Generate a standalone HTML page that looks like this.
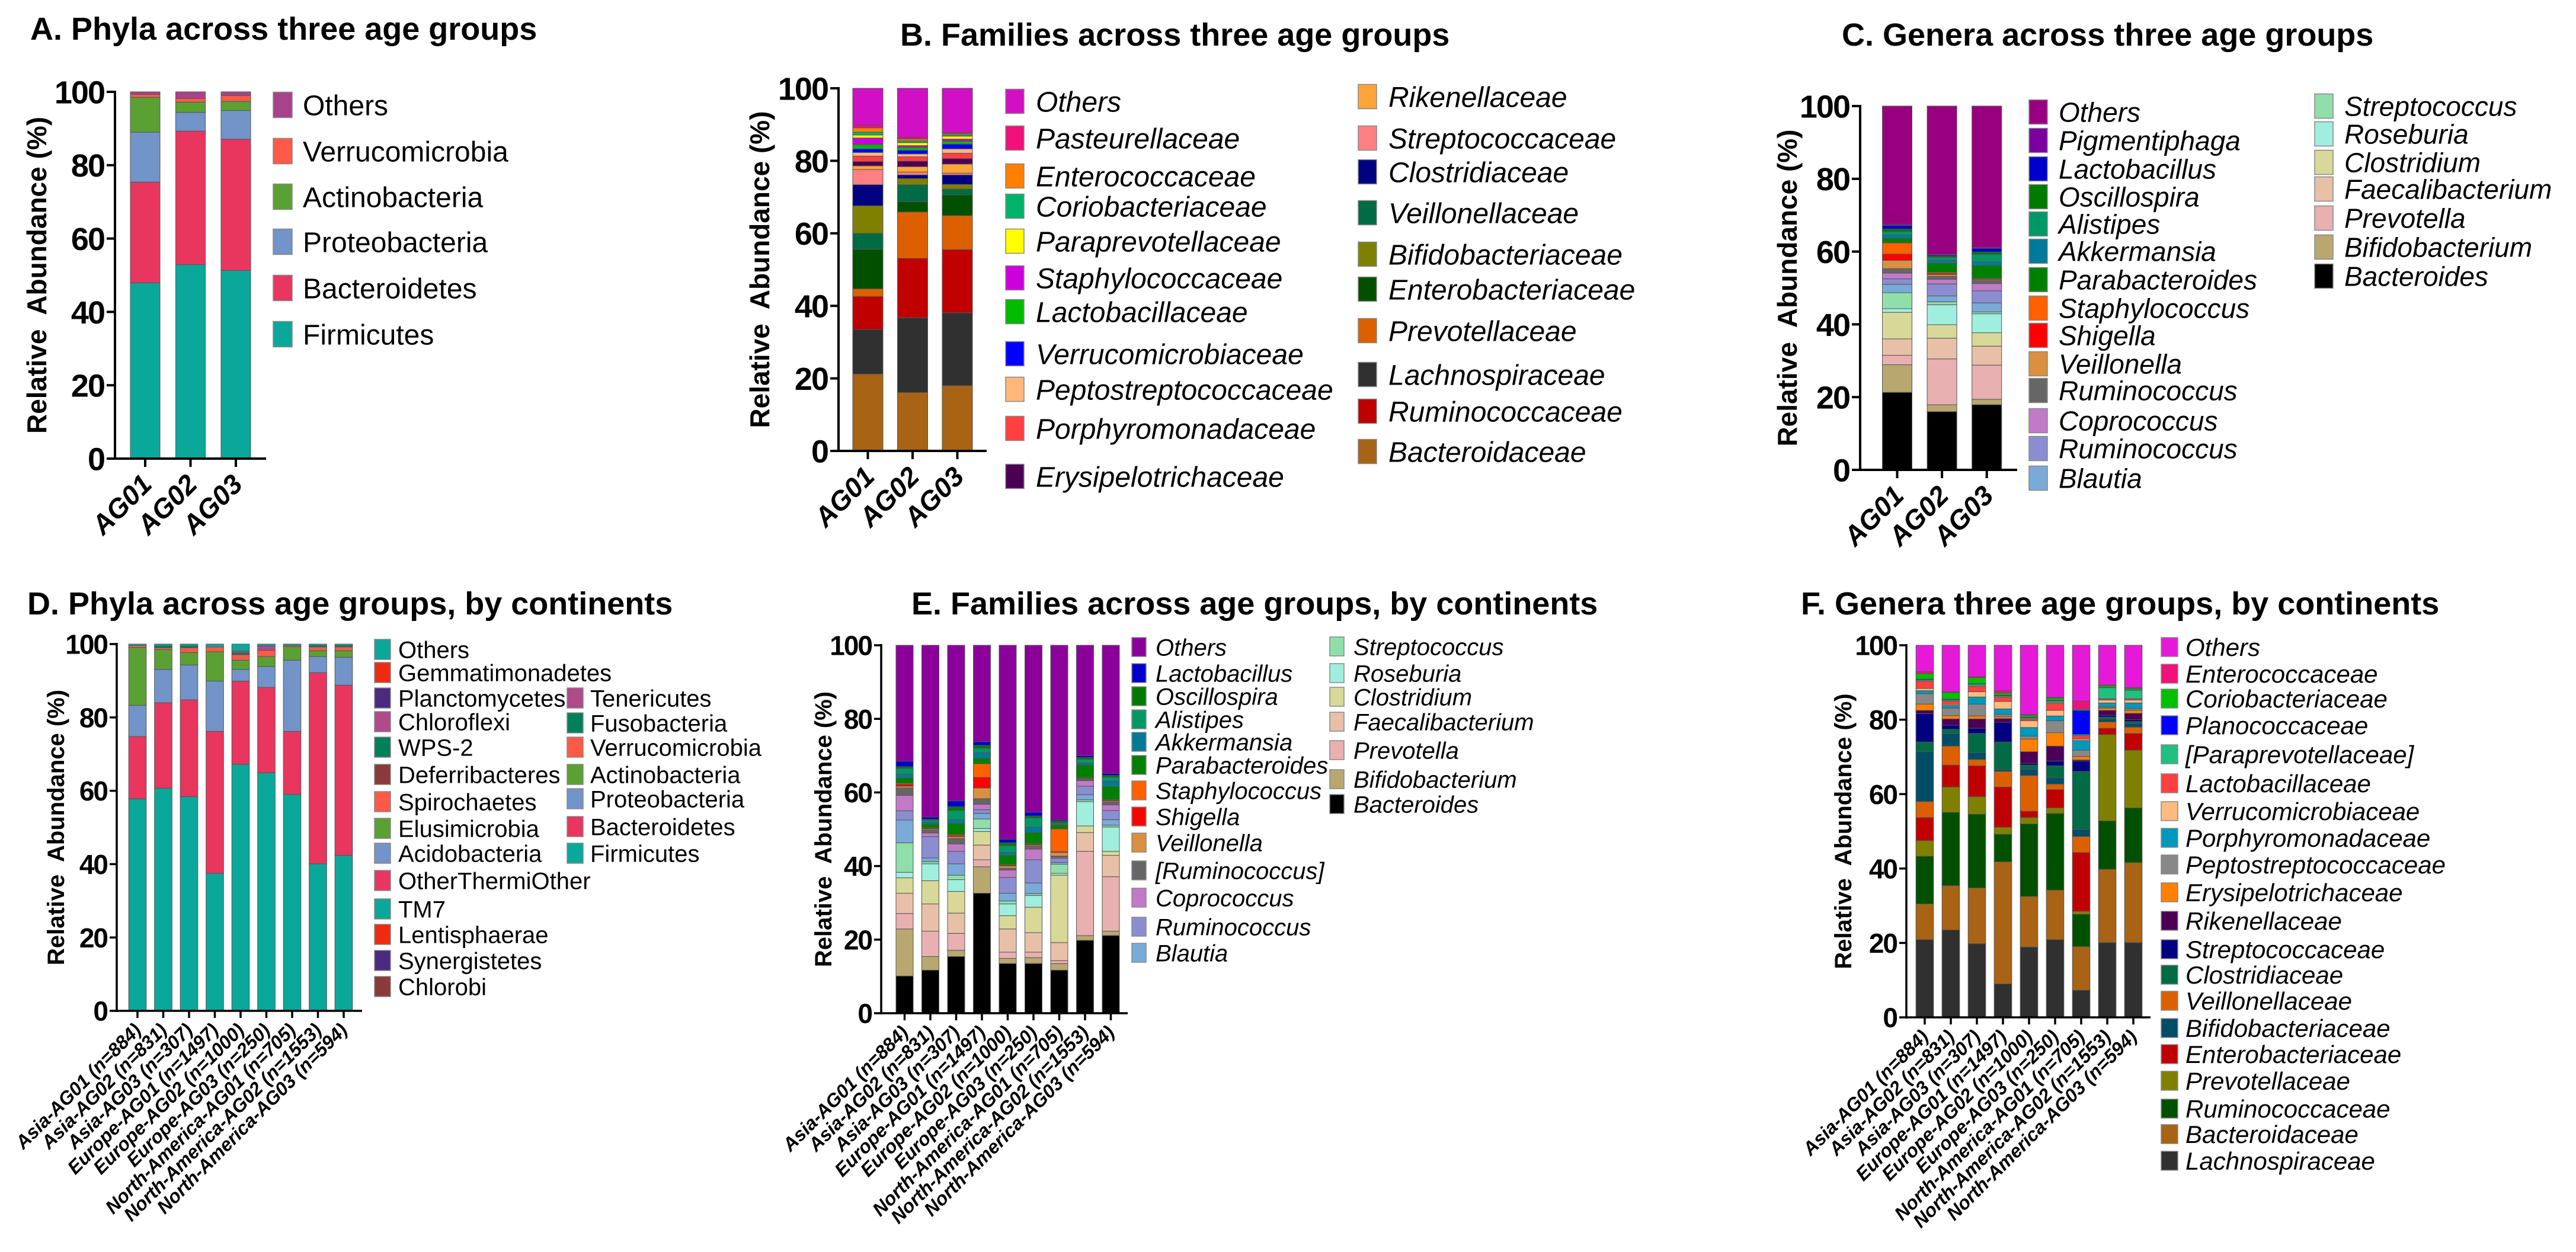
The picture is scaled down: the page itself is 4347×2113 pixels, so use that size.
<!DOCTYPE html>
<html><head><meta charset="utf-8"><style>
html,body{margin:0;padding:0;background:#fff;}
svg{display:block;font-family:"Liberation Sans",Arial,sans-serif;}
text{white-space:pre;}
</style></head><body>
<svg id="fig" width="4347" height="2113" viewBox="0 0 4347 2113" xmlns="http://www.w3.org/2000/svg">
<rect x="0" y="0" width="4347" height="2113" fill="#fff"/>
</svg>
<script>
// ---------- DATA ----------
const catsAge = ['AG01','AG02','AG03'];
const catsCont = ['Asia-AG01 (n=884)','Asia-AG02 (n=831)','Asia-AG03 (n=307)','Europe-AG01 (n=1497)','Europe-AG02 (n=1000)','Europe-AG03 (n=250)','North-America-AG01 (n=705)','North-America-AG02 (n=1553)','North-America-AG03 (n=594)'];
const yTicks = [0,20,40,60,80,100];

// Panel A
const seriesA = ['Firmicutes','Bacteroidetes','Proteobacteria','Actinobacteria','Verrucomicrobia','Others'];
const valsA = [[47.9,27.5,13.6,9.5,0.8,0.7],[52.9,36.4,5.1,2.8,1.0,1.8],[51.3,35.8,7.8,2.5,1.6,1.0]];
const legendA = ['Others','Verrucomicrobia','Actinobacteria','Proteobacteria','Bacteroidetes','Firmicutes'];

// Panel B
const seriesB = ['Bacteroidaceae','Lachnospiraceae','Ruminococcaceae','Prevotellaceae','Enterobacteriaceae','Veillonellaceae','Bifidobacteriaceae','Clostridiaceae','Streptococcaceae','Rikenellaceae','Erysipelotrichaceae','Porphyromonadaceae','Peptostreptococcaceae','Verrucomicrobiaceae','Lactobacillaceae','Staphylococcaceae','Paraprevotellaceae','Coriobacteriaceae','Enterococcaceae','Pasteurellaceae','Others'];
const valsB = [
 [21.2,12.3,9.1,2.1,10.9,4.4,7.6,5.8,4.2,1.0,1.2,1.5,1.0,1.0,1.2,1.8,0.8,0.8,1.2,0.7,10.2],
 [16.1,20.6,16.4,12.8,2.8,4.7,1.7,1.0,0.8,1.5,1.5,1.2,0.8,1.0,0.8,0.5,0.8,0.5,0.5,0.5,13.5],
 [18.0,20.1,17.4,9.4,5.7,1.6,1.3,2.6,0.5,2.5,1.5,1.5,1.2,1.3,0.8,0.6,0.8,0.4,0.3,0.3,12.2]];
const legendB1 = ['Others','Pasteurellaceae','Enterococcaceae','Coriobacteriaceae','Paraprevotellaceae','Staphylococcaceae','Lactobacillaceae','Verrucomicrobiaceae','Peptostreptococcaceae','Porphyromonadaceae','Erysipelotrichaceae'];
const legendB2 = ['Rikenellaceae','Streptococcaceae','Clostridiaceae','Veillonellaceae','Bifidobacteriaceae','Enterobacteriaceae','Prevotellaceae','Lachnospiraceae','Ruminococcaceae','Bacteroidaceae'];

// Panel C
const seriesC = ['Bacteroides','Bifidobacterium','Prevotella','Faecalibacterium','Clostridium','Roseburia','Streptococcus','Blautia','Ruminococcus','Coprococcus','[Ruminococcus]','Veillonella','Shigella','Staphylococcus','Parabacteroides','Akkermansia','Alistipes','Oscillospira','Lactobacillus','Pigmentiphaga','Others'];
const valsC = [
 [21.3,7.6,2.6,4.5,7.3,1.0,4.4,2.3,1.5,1.6,1.2,2.3,1.7,3.1,1.2,1.0,0.9,0.7,1.0,0.3,32.5],
 [16.0,1.9,12.6,5.7,3.7,5.5,0.8,1.6,3.3,1.3,0.8,0.5,0.3,0.3,2.5,0.8,0.8,0.3,0.3,0.2,40.8],
 [17.9,1.5,9.4,5.2,3.7,5.2,0.5,2.5,3.3,2.0,0.8,0.3,0.2,0.2,3.5,1.0,2.0,0.7,1.0,0.2,38.9]];
const legendC1 = ['Others','Pigmentiphaga','Lactobacillus','Oscillospira','Alistipes','Akkermansia','Parabacteroides','Staphylococcus','Shigella','Veillonella','[Ruminococcus]','Coprococcus','Ruminococcus','Blautia'];
const legendC2 = ['Streptococcus','Roseburia','Clostridium','Faecalibacterium','Prevotella','Bifidobacterium','Bacteroides'];

// Panel D
const seriesD = ['Firmicutes','Bacteroidetes','Proteobacteria','Actinobacteria','Verrucomicrobia','Fusobacteria','Tenericutes','Others'];
const valsD = [
 [57.8,17.0,8.5,15.8,0.5,0,0,0.4],
 [60.7,23.3,9.1,5.4,0.5,0.5,0,0.5],
 [58.4,26.4,9.5,3.4,1.3,0.5,0,0.5],
 [37.5,38.7,13.7,8.0,1.3,0,0,0.8],
 [67.2,22.7,3.2,2.5,1.5,0.5,0.5,1.9],
 [64.9,23.3,5.7,2.7,1.7,0,1.2,0.5],
 [59.0,17.2,19.4,3.7,0.3,0,0,0.4],
 [40.1,52.1,4.4,1.6,1.0,0.4,0,0.4],
 [42.4,46.4,7.6,1.8,1.0,0.4,0,0.4]];
const legendD1 = ['Others','Gemmatimonadetes','Planctomycetes','Chloroflexi','WPS-2','Deferribacteres','Spirochaetes','Elusimicrobia','Acidobacteria','OtherThermiOther','TM7','Lentisphaerae','Synergistetes','Chlorobi'];
const legendD2 = ['Tenericutes','Fusobacteria','Verrucomicrobia','Actinobacteria','Proteobacteria','Bacteroidetes','Firmicutes'];

// Panel E
const seriesE = ['Bacteroides','Bifidobacterium','Prevotella','Faecalibacterium','Clostridium','Roseburia','Streptococcus','Blautia','Ruminococcus','Coprococcus','[Ruminococcus]','Veillonella','Shigella','Staphylococcus','Parabacteroides','Akkermansia','Alistipes','Oscillospira','Lactobacillus','Others'];
const valsE = [
 [10.1,12.8,4.2,5.5,4.2,1.5,8.0,6.2,2.5,4.2,2.0,0.5,0.5,0.3,1.5,1.0,1.5,0.5,1.5,31.5],
 [11.7,3.7,6.9,7.4,6.3,4.6,0.6,1.0,5.8,1.0,0.7,0.3,0.2,0.2,1.0,0.5,0.5,0.3,0.6,46.7],
 [15.4,1.7,4.6,5.5,5.9,3.2,1.2,3.1,3.4,2.0,1.5,0.5,0.3,0.3,3.0,1.0,2.5,1.0,1.6,42.3],
 [32.6,7.2,1.9,4.0,3.7,0.8,2.6,1.5,1.0,1.5,1.5,2.9,2.9,3.7,1.5,1.5,1.2,0.8,1.0,26.2],
 [13.5,1.4,1.7,6.3,3.6,3.2,0.8,2.1,4.3,2.0,0.5,0.6,0.2,0.2,2.5,0.8,1.8,0.8,1.0,52.7],
 [13.5,1.6,1.5,5.3,6.9,3.2,0.5,2.9,6.3,2.9,0.8,0.3,0.2,0.2,3.0,1.5,2.5,0.5,1.0,45.4],
 [11.7,1.8,0.8,4.9,18.3,0.5,2.5,0.5,1.1,0.3,0.3,1.0,0.2,6.2,1.0,0.3,0.3,0.5,0.3,47.5],
 [19.8,1.3,22.9,5.1,1.8,6.6,0.5,1.4,2.3,1.5,0.3,0.2,0.1,0.2,3.5,0.5,1.0,0.5,0.5,30.0],
 [21.1,1.2,14.8,5.8,1.1,6.6,0.5,1.5,2.5,1.5,0.8,0.3,0.2,0.2,3.5,1.5,1.0,0.5,0.6,34.8]];
const legendE1 = ['Others','Lactobacillus','Oscillospira','Alistipes','Akkermansia','Parabacteroides','Staphylococcus','Shigella','Veillonella','[Ruminococcus]','Coprococcus','Ruminococcus','Blautia'];
const legendE2 = ['Streptococcus','Roseburia','Clostridium','Faecalibacterium','Prevotella','Bifidobacterium','Bacteroides'];

// Panel F
const seriesF = ['Lachnospiraceae','Bacteroidaceae','Ruminococcaceae','Prevotellaceae','Enterobacteriaceae','Veillonellaceae','Bifidobacteriaceae','Clostridiaceae','Streptococcaceae','Rikenellaceae','Erysipelotrichaceae','Peptostreptococcaceae','Porphyromonadaceae','Verrucomicrobiaceae','Lactobacillaceae','[Paraprevotellaceae]','Planococcaceae','Coriobacteriaceae','Enterococcaceae','Others'];
const valsF = [
 [20.9,9.6,12.8,4.2,6.2,4.3,13.4,2.6,7.6,0.9,1.7,2.8,0.8,0.6,2.0,0.3,0.2,1.5,0.5,7.1],
 [23.5,11.9,19.7,6.8,5.9,5.1,3.4,1.1,1.1,1.7,0.9,2.0,0.7,0.3,0.9,0.3,0.2,1.8,0.2,12.5],
 [19.8,15.0,19.8,4.7,8.3,1.7,1.9,5.1,1.4,2.5,0.8,3.2,1.9,1.4,1.5,0.5,0.2,1.6,0.3,8.4],
 [9.0,32.8,7.4,1.9,10.8,4.2,0.5,7.4,5.3,1.0,0.5,0.6,1.5,2.0,1.2,0.3,0.2,0.6,0.6,12.2],
 [18.9,13.6,19.5,1.7,1.7,9.6,1.7,1.1,0.5,3.1,3.4,0.8,2.3,1.8,0.5,0.3,0.2,0.5,0.2,18.6],
 [20.9,13.3,20.6,1.5,4.9,1.5,1.7,3.2,1.3,4.0,3.6,3.2,1.3,1.5,2.0,0.5,0.2,0.6,0.2,14.0],
 [7.3,11.7,8.7,0.8,15.8,4.3,1.9,15.6,2.8,0.3,0.9,1.7,2.6,0.4,0.9,0.3,6.5,0.3,2.2,15.0],
 [20.1,19.7,13.0,23.2,1.7,1.7,0.8,0.5,0.5,1.3,0.6,0.3,1.1,0.8,0.3,3.0,0.1,0.5,0.1,10.7],
 [20.1,21.5,14.7,15.5,4.5,1.7,1.0,0.5,0.5,1.7,0.8,0.5,1.5,0.8,0.3,2.3,0.1,0.4,0.2,11.4]];
const legendF1 = ['Others','Enterococcaceae','Coriobacteriaceae','Planococcaceae','[Paraprevotellaceae]','Lactobacillaceae','Verrucomicrobiaceae','Porphyromonadaceae','Peptostreptococcaceae','Erysipelotrichaceae','Rikenellaceae','Streptococcaceae','Clostridiaceae','Veillonellaceae','Bifidobacteriaceae','Enterobacteriaceae','Prevotellaceae','Ruminococcaceae','Bacteroidaceae','Lachnospiraceae'];

// ---------- COLOURS ----------
const palPhyla = {'Firmicutes':'#0aa89a','Bacteroidetes':'#e8365f','Proteobacteria':'#7294c8','Actinobacteria':'#5ba033','Verrucomicrobia':'#ff5a48','Others':'#a8428a',
 'Gemmatimonadetes':'#f02a10','Planctomycetes':'#4b2a80','Chloroflexi':'#b04a8a','WPS-2':'#00805a','Deferribacteres':'#8b3a3a','Spirochaetes':'#ff5a48','Elusimicrobia':'#5ba033','Acidobacteria':'#7294c8','OtherThermiOther':'#e8365f','TM7':'#0aa89a','Lentisphaerae':'#f02a10','Synergistetes':'#4b2a80','Chlorobi':'#8b3a3a','Tenericutes':'#b04a8a','Fusobacteria':'#00805a'};
const palPhylaD = Object.assign({}, palPhyla, {'Others':'#0aa89a'});
const palFam = {'Others':'#d10fc4','Pasteurellaceae':'#f0117a','Enterococcaceae':'#ff7f00','Coriobacteriaceae':'#00b36b','Paraprevotellaceae':'#ffff00','Staphylococcaceae':'#cc00dd','Lactobacillaceae':'#00bb00','Verrucomicrobiaceae':'#0000ff','Peptostreptococcaceae':'#ffb87a','Porphyromonadaceae':'#ff4040','Erysipelotrichaceae':'#4b0055','Rikenellaceae':'#ffa537','Streptococcaceae':'#ff8080','Clostridiaceae':'#000080','Veillonellaceae':'#006b45','Bifidobacteriaceae':'#808000','Enterobacteriaceae':'#005000','Prevotellaceae':'#dd6000','Lachnospiraceae':'#303030','Ruminococcaceae':'#c00000','Bacteroidaceae':'#a86414'};
const palGen = {'Others':'#990080','Pigmentiphaga':'#7b00a0','Lactobacillus':'#0000cc','Oscillospira':'#007a00','Alistipes':'#009966','Akkermansia':'#007a99','Parabacteroides':'#008000','Staphylococcus':'#ff6000','Shigella':'#ff0000','Veillonella':'#d99040','[Ruminococcus]':'#666666','Coprococcus':'#c07ac8','Ruminococcus':'#8a8ed0','Blautia':'#7aaad8','Streptococcus':'#90deaa','Roseburia':'#a0eedd','Clostridium':'#d8d898','Faecalibacterium':'#e8c0a8','Prevotella':'#e8b0b0','Bifidobacterium':'#b8a870','Bacteroides':'#000000'};
const palGenE = Object.assign({}, palGen, {'Others':'#8b009b'});
const palFamF = {'Others':'#e619d8','Enterococcaceae':'#f0117a','Coriobacteriaceae':'#00c000','Planococcaceae':'#0000ff','[Paraprevotellaceae]':'#20c080','Lactobacillaceae':'#ff4040','Verrucomicrobiaceae':'#ffbb80','Porphyromonadaceae':'#0099bb','Peptostreptococcaceae':'#888888','Erysipelotrichaceae':'#ff8000','Rikenellaceae':'#4b0055','Streptococcaceae':'#000080','Clostridiaceae':'#006b45','Veillonellaceae':'#dd6000','Bifidobacteriaceae':'#004d66','Enterobacteriaceae':'#c00000','Prevotellaceae':'#808000','Ruminococcaceae':'#005000','Bacteroidaceae':'#a86414','Lachnospiraceae':'#303030'};

// ---------- DRAWING ----------
const NS = 'http://www.w3.org/2000/svg';
const svg = document.getElementById('fig');
function mk(tag, attrs, parent, text) {
  const e = document.createElementNS(NS, tag);
  for (const k in attrs) e.setAttribute(k, attrs[k]);
  if (text != null) e.textContent = text;
  parent.appendChild(e);
  return e;
}

function drawPanel(L, title, cats, series, vals, pal, legendCols) {
  const g = mk('g', {}, svg);
  
  
  const yS = v => L.y0 - v * (L.y0 - L.y100) / 100;
  const xC = i => L.c0 + i * L.step;

  const t = mk('text', {x: L.tx, y: L.ty, 'font-size': L.titleFont, 'font-weight': 'bold', fill: '#000'}, g, title);
  
  

  cats.forEach((c, i) => {
    let cum = 0;
    const bg = mk('g', {}, g);
    
    
    series.forEach((s, k) => {
      const v = vals[i][k];
      if (v > 0) {
        const r = mk('rect', {x: xC(i) - L.bw / 2, y: yS(cum + v), width: L.bw, height: yS(cum) - yS(cum + v), fill: pal[s], stroke: '#555', 'stroke-width': 1}, bg);
        
        
      }
      cum += v;
    });
  });

  const ya = mk('line', {x1: L.ax, y1: L.y100 - 2, x2: L.ax, y2: L.y0 + 2, stroke: '#000', 'stroke-width': L.aw}, g);
  
  
  const xa = mk('line', {x1: L.ax - L.aw / 2, y1: L.y0, x2: L.xEnd, y2: L.y0, stroke: '#000', 'stroke-width': L.aw}, g);
  
  
  yTicks.forEach(v => {
    mk('line', {x1: L.ax - L.tl, y1: yS(v), x2: L.ax, y2: yS(v), stroke: '#000', 'stroke-width': L.aw}, g);
    const tl = mk('text', {x: L.ax - L.tl - 4, y: yS(v) + L.tickFont * 0.36, 'font-size': L.tickFont, 'font-weight': 'bold', 'text-anchor': 'end', 'letter-spacing': -2}, g, String(v));
    
    
  });
  cats.forEach((c, i) => {
    mk('line', {x1: xC(i), y1: L.y0, x2: xC(i), y2: L.y0 + L.tl, stroke: '#000', 'stroke-width': L.aw}, g);
    const px = xC(i) + L.xlOff, py = L.y0 + L.tl + L.xlFont * 0.7;
    const xl = mk('text', {x: px, y: py, 'font-size': L.xlFont, 'font-weight': 'bold', 'font-style': 'italic', 'text-anchor': 'end', transform: 'rotate(-45 ' + px + ' ' + py + ')'}, g, c);
    
    
  });
  const yt = mk('text', {x: L.ytx, y: (L.y0 + L.y100) / 2, 'font-size': L.ytFont, 'font-weight': 'bold', 'text-anchor': 'middle', transform: 'rotate(-90 ' + L.ytx + ' ' + (L.y0 + L.y100) / 2 + ')'}, g, 'Relative  Abundance (%)');
  
  

  legendCols.forEach(col => {
    col.names.forEach((n, j) => {
      const cy = col.ys[j];
      const lg = mk('g', {}, g);
      
      
      mk('rect', {x: col.sx, y: cy - L.sh / 2, width: L.sw, height: L.sh, fill: pal[n], stroke: '#888', 'stroke-width': 1.5}, lg);
      const label = (col.labels && col.labels[j]) || n;
      mk('text', {x: col.tx, y: cy + L.lf * 0.36, 'font-size': L.lf, 'font-style': L.italic ? 'italic' : 'normal'}, lg, label);
    });
  });
}

drawPanel({id:'a', tx:51, ty:67, titleFont:54, ax:194, y100:155, y0:774, xEnd:449, c0:245, step:76.5, bw:50, aw:4, tl:14, tickFont:54, xlFont:46, xlOff:14, ytx:78, ytFont:46, sw:32, sh:43, lf:48, italic:false},
 'A. Phyla across three age groups', catsAge, seriesA, valsA, palPhyla,
 [{sx:461, tx:511, names:legendA, ys:[177,255,332,408,486,564]}]);

drawPanel({id:'b', tx:1519, ty:77, titleFont:54, ax:1415, y100:149, y0:761, xEnd:1665, c0:1464.5, step:75.5, bw:51, aw:4, tl:14, tickFont:54, xlFont:46, xlOff:14, ytx:1298, ytFont:46, sw:31, sh:41, lf:48, italic:true},
 'B. Families across three age groups', catsAge, seriesB, valsB, palFam,
 [{sx:1697, tx:1748, names:legendB1, ys:[171,233,297,348,407,469,526,597,657,723,804]},
  {sx:2292, tx:2343, names:legendB2, ys:[163,233,290,359,429,488,558,632,694,762]}]);

drawPanel({id:'c', tx:3108, ty:77, titleFont:54, ax:3139, y100:179, y0:793, xEnd:3404, c0:3201.5, step:75.6, bw:50, aw:4, tl:14, tickFont:54, xlFont:46, xlOff:14, ytx:3032, ytFont:46, sw:31, sh:41, lf:46, italic:true},
 'C. Genera across three age groups', catsAge, seriesC, valsC, palGen,
 [{sx:3424, tx:3474, names:legendC1, labels:[null,null,null,null,null,null,null,null,null,null,'Ruminococcus'], ys:[189,237,285,332,378,424,472,520,566,614,659,710,757,807]},
  {sx:3906, tx:3956, names:legendC2, ys:[179,226,274,319,368,417,466]}]);

drawPanel({id:'d', tx:46, ty:1037, titleFont:54, ax:197, y100:1087, y0:1706, xEnd:611, c0:232, step:43.5, bw:29.6, aw:3.5, tl:12, tickFont:46, xlFont:32, xlOff:8, ytx:108, ytFont:40, sw:27, sh:34, lf:40, italic:false},
 'D. Phyla across age groups, by continents', catsCont, seriesD, valsD, palPhylaD,
 [{sx:632, tx:672, names:legendD1, ys:[1096,1135,1178,1218,1261,1307,1353,1398,1440,1486,1534,1577,1621,1665]},
  {sx:957, tx:996, names:legendD2, ys:[1178,1220,1261,1307,1348,1395,1440]}]);

drawPanel({id:'e', tx:1538, ty:1037, titleFont:54, ax:1487, y100:1089, y0:1710, xEnd:1903, c0:1526.5, step:43.5, bw:29, aw:3.5, tl:12, tickFont:46, xlFont:32, xlOff:8, ytx:1403, ytFont:40, sw:24, sh:32, lf:40, italic:true},
 'E. Families across age groups, by continents', catsCont, seriesE, valsE, palGenE,
 [{sx:1910, tx:1950, names:legendE1, ys:[1092,1136,1175,1214,1252,1291,1334,1378,1422,1469,1515,1564,1608]},
  {sx:2244, tx:2284, names:legendE2, ys:[1091,1136,1176,1218,1266,1315,1357]}]);

drawPanel({id:'f', tx:3039, ty:1037, titleFont:54, ax:3217, y100:1089, y0:1717, xEnd:3629, c0:3248, step:44, bw:29.6, aw:3.5, tl:12, tickFont:46, xlFont:32, xlOff:8, ytx:3124, ytFont:40, sw:28, sh:32, lf:42, italic:true},
 'F. Genera three age groups, by continents', catsCont, seriesF, valsF, palFamF,
 [{sx:3647, tx:3688, names:legendF1, ys:[1092,1137,1179,1224,1273,1322,1369,1414,1459,1506,1554,1602,1645,1689,1735,1779,1824,1871,1914,1959]}]);
</script>
</body></html>
